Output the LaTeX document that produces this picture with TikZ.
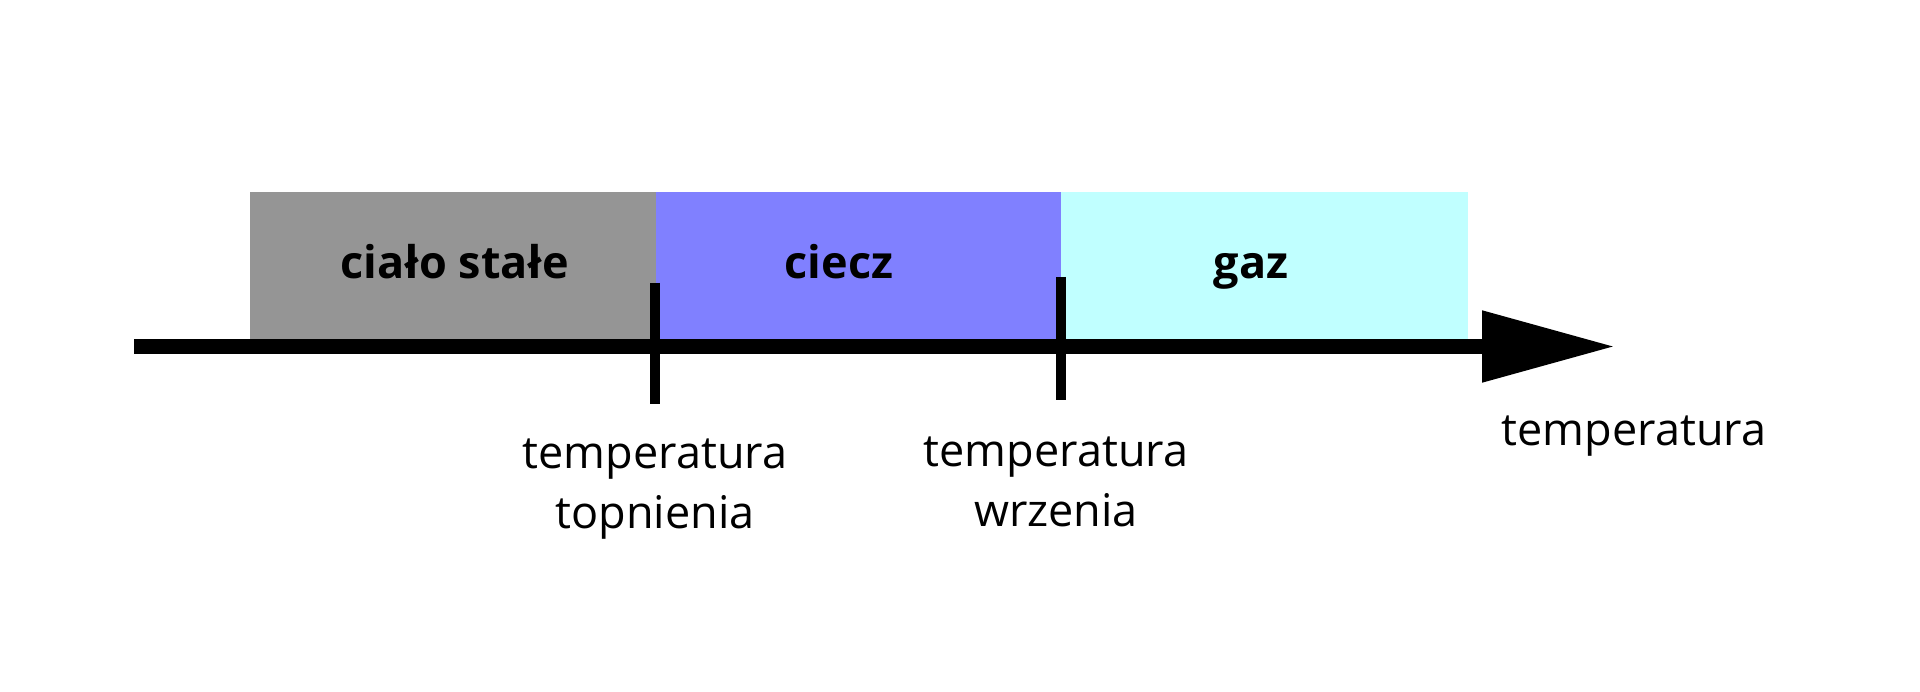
\documentclass[tikz,border=0pt]{standalone}
\usepackage{fontspec}
\setmainfont{Open Sans}
\usetikzlibrary{arrows.meta}
\definecolor{solidgray}{HTML}{959595}
\definecolor{liquidblue}{HTML}{8080FF}
\definecolor{gascyan}{HTML}{C0FFFF}
\tikzset{
  phase/.style={draw=none, minimum height=146.5pt, inner sep=0pt, outer sep=0pt, anchor=north west},
  phaselabel/.style={font=\fontsize{45}{60}\selectfont\bfseries, anchor=base, inner sep=0pt},
  axislabel/.style={font=\fontsize{45}{60}\selectfont, align=center, anchor=base, inner sep=0pt},
  axisline/.style={line width=15pt, -{Triangle[length=133pt, width=68pt]}},
  tickline/.style={line width=10pt}
}
\begin{document}
\begin{tikzpicture}[x=1pt,y=-1pt]
\useasboundingbox (0,0) rectangle (1920,692);
% phase regions
\node[phase, fill=solidgray, minimum width=406pt] (solid) at (250,192.5) {};
\node[phase, fill=liquidblue, minimum width=405pt] (liquid) at (656,192.5) {};
\node[phase, fill=gascyan, minimum width=407pt] (gas) at (1061,192.5) {};
\node[phaselabel] (tsolid) at (455,279) {ciało stałe};
\node[phaselabel] (tliquid) at (839,279) {ciecz};
\node[phaselabel] (tgas) at (1251,279) {gaz};
% axis
\coordinate (axstart) at (134,346.5);
\coordinate (axend) at (1615,346.5);
\draw[axisline] (axstart) -- (axend);
% ticks
\coordinate (m1) at (655,283);
\coordinate (m2) at (655,404);
\coordinate (b1) at (1060.5,277);
\coordinate (b2) at (1060.5,400);
\draw[tickline] (m1) -- (m2);
\draw[tickline] (b1) -- (b2);
% labels
\node[axislabel] (lmelt) at (655,528) {temperatura\\topnienia};
\node[axislabel] (lboil) at (1056,526) {temperatura\\wrzenia};
\node[axislabel] (ltemp) at (1634,446) {temperatura};
\end{tikzpicture}
\end{document}
